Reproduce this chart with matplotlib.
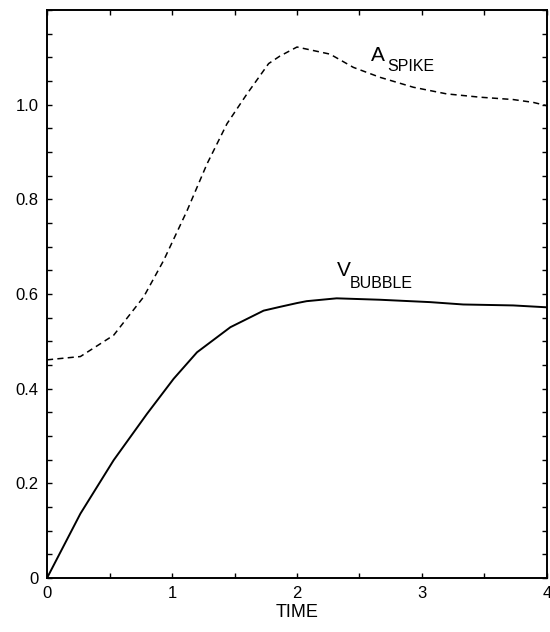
import matplotlib.pyplot as plt
from matplotlib.ticker import MultipleLocator

# values
t_spike = [0.0, 0.267, 0.533, 0.773, 0.933, 1.12, 1.28, 1.44, 1.6, 1.773, 1.864, 2.0,
           2.264, 2.451, 2.664, 2.931, 3.197, 3.464, 3.73, 3.89, 4.0]
a_spike = [0.461, 0.468, 0.513, 0.594, 0.671, 0.776, 0.875, 0.96, 1.023, 1.087, 1.103, 1.122,
           1.107, 1.079, 1.058, 1.037, 1.023, 1.016, 1.011, 1.005, 0.998]

t_bubble = [0.0, 0.267, 0.533, 0.8, 1.013, 1.2, 1.467, 1.733, 1.864, 2.0, 2.077, 2.317,
            2.664, 3.064, 3.33, 3.73, 4.0]
v_bubble = [0.0, 0.136, 0.249, 0.347, 0.421, 0.477, 0.530, 0.565, 0.573, 0.581, 0.585, 0.591,
            0.588, 0.583, 0.578, 0.576, 0.572]

xticks = [0, 1, 2, 3, 4]
yticks = [0, 0.2, 0.4, 0.6, 0.8, 1.0]
ylabels = ["0", "0.2", "0.4", "0.6", "0.8", "1.0"]

plt.rcParams["font.family"] = ["Liberation Sans", "DejaVu Sans"]

fig = plt.figure(figsize=(5.5, 6.32), dpi=100)
ax = fig.add_axes([0.0855, 0.0854, 0.909, 0.8986])

ax.plot(t_spike, a_spike, color="black", lw=1.1, linestyle=(0, (4, 2.8)))
ax.plot(t_bubble, v_bubble, color="black", lw=1.4)

ax.set_xlim(0, 4)
ax.set_ylim(0, 1.2)
ax.set_xticks(xticks)
ax.set_xticklabels([str(x) for x in xticks])
ax.set_yticks(yticks)
ax.set_yticklabels(ylabels)
ax.xaxis.set_minor_locator(MultipleLocator(0.5))
ax.yaxis.set_minor_locator(MultipleLocator(0.05))
ax.tick_params(which="both", direction="in", top=True, right=True,
               length=3.5, width=1, labelsize=12, pad=6)

for s in ax.spines.values():
    s.set_linewidth(1.4)

ax.set_xlabel("TIME", fontsize=13, labelpad=2)

ax.text(2.59, 1.085, "A", fontsize=15, ha="left", va="bottom")
ax.text(2.72, 1.065, "SPIKE", fontsize=11.5, ha="left", va="bottom")
ax.text(2.32, 0.63, "V", fontsize=15, ha="left", va="bottom")
ax.text(2.42, 0.606, "BUBBLE", fontsize=11.5, ha="left", va="bottom")

fig.savefig("out.png", dpi=100)
